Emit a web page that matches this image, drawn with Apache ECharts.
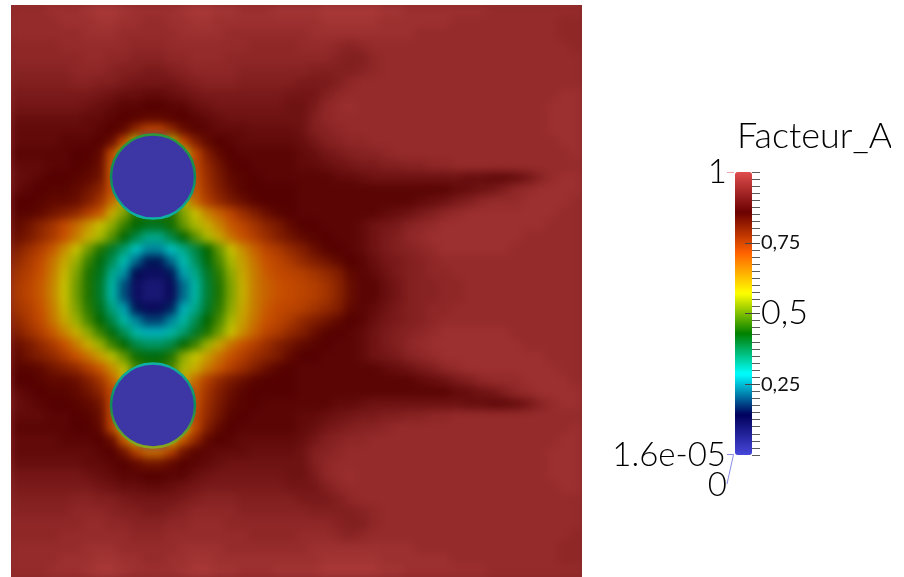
<!DOCTYPE html>
<html><head><meta charset="utf-8">
<style>
html,body{margin:0;padding:0;background:#fff}
#c{width:904px;height:577px;position:relative;z-index:0;isolation:isolate;background:#8a2a2a}
canvas[data-zr-dom-id="zr_-1"]{filter:blur(4.5px)}
</style>
<script src="https://cdn.jsdelivr.net/npm/echarts@6/dist/echarts.min.js"></script>
</head><body><div id="c"></div>
<script>
const r00=[96,96,96,97,97,97,98,99,99,98,97,97,97,97,98,99,99,98,98,97,97,97,98,98,98,98,99,99,99,99,99,98,98,97,97,97,97,97,97,97,96,96,96,96,96,96,96,96];
const r01=[96,96,96,96,97,97,97,98,98,97,97,96,96,97,97,98,98,97,97,97,97,97,97,97,97,97,98,98,98,98,98,97,97,97,97,97,97,96,96,96,96,96,96,96,96,96,95,95];
const r02=[96,96,96,96,96,96,97,97,97,96,96,96,96,96,97,97,97,97,96,96,96,96,96,96,96,97,97,97,97,97,97,97,97,97,96,96,96,96,96,96,96,96,96,96,96,96,95,95];
const r03=[95,95,95,95,96,96,96,96,96,96,95,95,95,96,96,96,96,96,96,96,95,95,95,95,96,96,96,95,94,95,96,96,96,96,96,96,96,96,96,96,96,96,96,96,96,96,96,95];
const r04=[95,95,95,95,95,95,96,96,95,95,94,94,94,95,95,96,96,96,95,95,95,95,95,95,95,95,95,94,93,93,95,96,96,96,96,96,96,96,96,96,96,96,96,96,96,96,96,96];
const r05=[94,94,94,94,94,95,95,95,94,93,93,92,92,93,94,95,95,95,95,94,94,94,94,94,94,93,93,93,93,94,95,96,96,96,96,96,96,96,96,96,96,96,96,96,96,96,96,96];
const r06=[93,93,93,93,93,94,94,93,93,92,91,91,91,91,92,93,94,94,94,93,93,93,93,93,92,92,92,93,95,96,96,96,96,96,96,96,96,96,96,96,96,96,96,96,96,96,96,96];
const r07=[92,92,92,92,92,92,92,91,90,89,89,88,88,89,90,91,92,92,92,92,92,92,92,91,91,91,93,95,96,96,96,96,96,96,96,96,96,96,96,96,96,96,96,96,96,96,97,97];
const r08=[91,91,91,91,91,91,90,89,88,87,87,86,86,87,87,89,90,91,91,91,91,91,91,90,90,92,95,96,97,96,96,96,96,96,96,96,96,96,96,96,96,96,96,96,96,97,97,97];
const r09=[89,89,89,89,89,89,88,88,87,86,85,84,84,85,86,87,88,89,90,90,90,90,90,90,90,93,95,96,96,96,96,96,96,96,96,96,96,96,96,96,96,96,96,96,96,97,97,97];
const r10=[88,88,88,88,88,88,88,87,86,84,78,73,73,78,83,85,87,88,88,88,89,89,89,89,90,93,94,95,96,96,96,96,96,96,96,96,96,96,96,96,96,96,96,96,96,97,97,97];
const r11=[88,88,88,88,87,87,87,86,83,72,55,0,0,55,72,80,84,86,87,88,88,88,88,88,89,91,93,94,95,95,96,96,96,96,96,96,96,96,96,96,96,96,96,96,96,96,97,97];
const r12=[87,87,87,87,87,86,86,84,72,55,0,0,0,0,55,72,80,84,86,87,87,87,87,87,88,89,91,92,93,94,94,95,96,96,96,96,96,96,96,96,96,96,96,96,96,96,96,97];
const r13=[88,88,88,87,87,86,85,83,70,0,0,0,0,0,0,72,78,82,85,86,87,87,87,87,88,88,89,90,91,92,92,93,93,94,94,95,95,96,96,96,96,96,96,96,96,96,96,96];
const r14=[89,88,87,86,86,85,84,82,70,0,0,0,0,0,0,71,77,81,84,85,86,87,87,87,87,87,87,88,88,89,90,90,90,90,90,90,90,90,89,89,88,88,89,91,94,96,97,97];
const r15=[88,87,86,85,85,84,82,79,71,0,0,0,0,0,0,70,76,80,83,85,86,86,86,86,87,87,87,87,87,87,87,87,87,87,87,87,87,88,89,90,91,93,95,96,97,97,97,97];
const r16=[86,86,85,84,84,83,80,76,68,55,0,0,0,0,55,68,74,78,81,83,85,86,86,86,87,87,87,87,87,87,87,87,87,87,88,89,90,92,93,95,96,96,96,97,97,97,97,96];
const r17=[85,85,84,82,80,78,74,70,60,52,45,45,45,45,52,58,65,69,73,77,80,83,85,86,87,87,87,87,87,87,87,88,89,90,92,93,95,96,97,97,97,97,97,97,97,97,96,96];
const r18=[84,82,79,76,72,68,63,58,53,47,43,41,41,44,50,55,60,65,70,73,76,79,81,84,86,86,87,87,87,88,90,91,92,94,95,96,97,97,97,97,97,97,97,97,97,96,96,96];
const r19=[83,81,78,75,71,66,60,55,49,43,38,33,33,38,43,49,55,61,67,71,74,77,80,82,84,85,86,87,87,88,90,92,93,95,96,97,97,97,97,97,97,97,97,96,96,96,96,96];
const r20=[80,77,74,70,64,58,51,45,40,35,29,24,24,29,33,38,43,50,58,64,69,73,75,78,80,83,85,86,87,88,90,92,93,94,95,96,97,97,97,97,97,97,96,96,96,96,96,96];
const r21=[78,75,72,67,61,54,47,42,37,30,22,16,16,22,30,36,42,48,55,62,67,71,73,75,78,80,82,84,86,87,89,91,92,93,94,95,96,96,96,96,96,96,96,96,96,96,96,96];
const r22=[76,74,71,66,59,52,45,41,33,25,15,11,11,16,26,33,40,46,53,61,66,70,72,73,74,76,78,80,84,87,88,90,92,93,94,95,95,96,96,96,96,96,96,96,96,96,96,96];
const r23=[75,73,70,65,58,51,45,40,31,20,11,8,8,12,22,31,39,45,52,60,66,69,71,72,73,74,76,79,83,87,87,89,91,93,94,94,95,95,96,96,96,96,96,96,96,96,96,96];
const r24=[75,73,70,65,58,51,45,40,31,20,11,8,8,12,22,31,39,45,52,60,66,69,71,72,73,74,76,79,83,87,87,89,91,93,94,94,95,95,96,96,96,96,96,96,96,96,96,96];
const r25=[76,74,71,66,59,52,46,41,34,26,16,12,12,17,27,33,40,46,53,61,66,70,72,73,74,76,78,80,84,87,88,90,92,93,94,95,95,96,96,96,96,96,96,96,96,96,96,96];
const r26=[78,75,72,67,61,54,48,43,38,31,24,19,19,24,31,37,43,48,55,62,67,71,73,75,78,80,82,84,86,87,89,91,92,93,94,95,96,96,96,96,96,96,96,96,96,96,96,96];
const r27=[80,77,74,70,65,60,53,47,42,37,31,27,27,31,35,40,45,51,58,64,69,73,75,78,80,83,85,86,87,88,90,92,93,94,95,96,97,97,97,97,97,97,96,96,96,96,96,96];
const r28=[83,81,78,75,71,66,60,54,47,43,38,36,36,38,43,47,54,61,67,71,74,77,80,82,84,85,86,87,87,88,90,92,93,95,96,97,97,97,97,97,97,97,97,96,96,96,96,96];
const r29=[84,82,80,78,75,71,67,62,56,50,44,42,42,45,53,57,62,67,71,74,77,79,81,84,86,86,87,87,87,88,90,91,92,94,95,96,97,97,97,97,97,97,97,97,97,96,96,96];
const r30=[85,85,84,82,80,78,74,70,64,56,48,45,45,48,55,60,66,70,74,77,80,83,85,86,87,87,87,87,87,87,87,88,89,90,92,93,95,96,97,97,97,97,97,97,97,97,96,96];
const r31=[86,86,85,84,84,83,80,76,69,60,0,0,0,0,60,68,74,78,81,83,85,86,86,86,87,87,87,87,87,87,87,87,87,87,88,89,90,92,93,95,96,96,96,97,97,97,97,96];
const r32=[88,87,86,85,85,84,82,79,72,0,0,0,0,0,0,70,76,80,83,85,86,86,86,86,87,87,87,87,87,87,87,87,87,87,87,87,87,88,89,90,91,93,95,96,97,97,97,97];
const r33=[89,88,87,86,86,85,84,82,72,0,0,0,0,0,0,71,77,81,84,85,86,87,87,87,87,87,87,88,88,89,90,90,90,90,90,90,90,90,89,89,88,88,89,91,94,96,97,97];
const r34=[88,88,88,87,87,86,85,83,72,0,0,0,0,0,0,72,78,82,85,86,87,87,87,87,88,88,89,90,91,92,92,93,93,94,94,95,95,96,96,96,96,96,96,96,96,96,96,96];
const r35=[87,87,87,87,87,86,86,84,73,60,0,0,0,0,60,72,80,84,86,87,87,87,87,87,88,89,91,92,93,94,94,95,96,96,96,96,96,96,96,96,96,96,96,96,96,96,96,97];
const r36=[88,88,88,88,87,87,87,86,83,70,60,0,0,60,70,78,84,86,87,88,88,88,88,88,89,91,93,94,95,95,96,96,96,96,96,96,96,96,96,96,96,96,96,96,96,96,97,97];
const r37=[88,88,88,88,88,88,88,87,86,82,74,68,68,74,82,85,87,88,88,88,89,89,89,89,90,93,94,95,96,96,96,96,96,96,96,96,96,96,96,96,96,96,96,96,96,97,97,97];
const r38=[89,89,89,89,89,89,88,88,87,86,84,82,82,84,86,87,88,89,90,90,90,90,90,90,90,93,95,96,96,96,96,96,96,96,96,96,96,96,96,96,96,96,96,96,96,97,97,97];
const r39=[91,91,91,91,91,91,90,89,88,87,87,86,86,87,87,89,90,91,91,91,91,91,91,90,90,92,95,96,97,96,96,96,96,96,96,96,96,96,96,96,96,96,96,96,96,97,97,97];
const r40=[92,92,92,92,92,92,92,91,90,89,89,88,88,89,90,91,92,92,92,92,92,92,92,91,91,91,93,95,96,96,96,96,96,96,96,96,96,96,96,96,96,96,96,96,96,96,97,97];
const r41=[93,93,93,93,93,94,94,93,93,92,91,91,91,91,92,93,94,94,94,93,93,93,93,93,92,92,92,93,95,96,96,96,96,96,96,96,96,96,96,96,96,96,96,96,96,96,96,96];
const r42=[94,94,94,94,94,95,95,95,94,93,93,92,92,93,94,95,95,95,95,94,94,94,94,94,94,93,93,93,93,94,95,96,96,96,96,96,96,96,96,96,96,96,96,96,96,96,96,96];
const r43=[95,95,95,95,95,95,96,96,95,95,94,94,94,95,95,96,96,96,95,95,95,95,95,95,95,95,95,94,93,93,95,96,96,96,96,96,96,96,96,96,96,96,96,96,96,96,96,96];
const r44=[95,95,95,95,96,96,96,96,96,96,95,95,95,96,96,96,96,96,96,96,95,95,95,95,96,96,96,95,94,95,96,96,96,96,96,96,96,96,96,96,96,96,96,96,96,96,96,95];
const r45=[96,96,96,96,96,96,97,97,97,96,96,96,96,96,97,97,97,97,96,96,96,96,96,96,96,97,97,97,97,97,97,97,97,97,96,96,96,96,96,96,96,96,96,96,96,96,95,95];
const r46=[96,96,96,96,97,97,97,98,98,97,97,96,96,97,97,98,98,97,97,97,97,97,97,97,97,97,98,98,98,98,98,97,97,97,97,97,97,96,96,96,96,96,96,96,96,96,95,95];
const r47=[96,96,96,97,97,97,98,99,99,98,97,97,97,97,98,99,99,98,98,97,97,97,98,98,98,98,99,99,99,99,99,98,98,97,97,97,97,97,97,97,96,96,96,96,96,96,96,96];
const rows=[r00,r01,r02,r03,r04,r05,r06,r07,r08,r09,r10,r11,r12,r13,r14,r15,r16,r17,r18,r19,r20,r21,r22,r23,r24,r25,r26,r27,r28,r29,r30,r31,r32,r33,r34,r35,r36,r37,r38,r39,r40,r41,r42,r43,r44,r45,r46,r47];

const holes=[[0.2487,0.7],[0.2487,0.3]];
const surfaceColors=['#3737ab','#000048','#00c7c7','#006400','#c7c700','#c74c00','#530000','#af3c3c'];
const barColors=['#4747db','#00005c','#00ffff','#008000','#ffff00','#ff6100','#6b0000','#e04d4d'];
const tickValues=[0.25,0.5,0.75];
const tickLabels={0.25:'0,25',0.5:'0,5',0.75:'0,75'};
const titleText='Facteur_A';
const maxLabel='1', rangeLabel='1.6e-05', minLabel='0';

const FONT='Lato, "Open Sans", sans-serif';
const cells=[];
rows.forEach((r,j)=>r.forEach((v,i)=>cells.push([i,j,v/100])));
const cats=n=>Array.from({length:n},(_,i)=>String(i));
const hidden={show:false};
const ring=(a,b)=>({type:'linear',x:0,y:0,x2:0,y2:1,colorStops:[{offset:0,color:a},{offset:0.5,color:'#128a55'},{offset:1,color:b}]});
const chart=echarts.init(document.getElementById('c'),null,{renderer:'canvas'});
chart.setOption({
  animation:false,
  backgroundColor:'#8a2a2a',
  grid:[
    {left:11,top:5,width:571,height:572},
    {left:11,top:5,width:571,height:572},
    {left:745,top:172,width:15,height:283},
    {left:745,top:172,width:15,height:283}
  ],
  xAxis:[
    {type:'category',data:cats(48),gridIndex:0,...hidden},
    {type:'value',min:0,max:1,gridIndex:1,...hidden},
    {type:'value',min:0,max:1,gridIndex:2,...hidden},
    {type:'value',min:0,max:1,gridIndex:3,...hidden}
  ],
  yAxis:[
    {type:'category',data:cats(48),inverse:true,gridIndex:0,...hidden},
    {type:'value',min:0,max:1,gridIndex:1,...hidden},
    {type:'value',min:0,max:1,interval:0.025,gridIndex:3,position:'right',z:6,
      axisLine:{show:false,onZero:false},splitLine:{show:false},axisLabel:{show:false},
      axisTick:{show:true,inside:true,length:8,lineStyle:{color:'#5a5a5a',width:1}}},
    {type:'value',min:0,max:1,interval:0.25,gridIndex:2,position:'right',z:6,
      axisLine:{show:false,onZero:false},splitLine:{show:false},
      axisTick:{show:true,inside:true,length:15,customValues:tickValues,lineStyle:{color:'#444',width:1}},
      axisLabel:{show:true,margin:1,customValues:tickValues,color:'#111',fontFamily:FONT,
        formatter:v=>{const t=tickLabels[v];return t===undefined?'':(v===0.5?'{big|'+t+'}':'{small|'+t+'}');},
        rich:{big:{fontSize:34,fontWeight:300,fontFamily:FONT,color:'#000'},small:{fontSize:20,fontWeight:400,fontFamily:FONT,color:'#111'}}}}
  ],
  visualMap:[
    {type:'continuous',min:0,max:1,seriesIndex:0,show:false,inRange:{color:surfaceColors}},
    {type:'continuous',min:0,max:1,seriesIndex:2,show:true,left:735,top:172,itemWidth:17,itemHeight:283,padding:0,
      calculable:false,hoverLink:false,text:null,inRange:{color:barColors}}
  ],
  series:[
    {type:'heatmap',data:cells,xAxisIndex:0,yAxisIndex:0,progressive:0,zlevel:-1,itemStyle:{borderWidth:0},emphasis:{disabled:true}},
    {type:'scatter',xAxisIndex:1,yAxisIndex:1,symbol:'circle',symbolSize:84,z:5,silent:true,
      data:[
        {value:holes[0],itemStyle:{color:'#3c37a5',borderColor:ring('#2f9a3a','#0fb3a8'),borderWidth:2.5,opacity:1}},
        {value:holes[1],itemStyle:{color:'#3c37a5',borderColor:ring('#0fb3a8','#8fa81a'),borderWidth:2.5,opacity:1}}
      ]},
    {type:'scatter',data:[],xAxisIndex:2,yAxisIndex:2}
  ],
  graphic:[
    {type:'rect',shape:{x:0,y:0,width:904,height:5},style:{fill:'#fff'},z:0},
    {type:'rect',shape:{x:0,y:0,width:11,height:577},style:{fill:'#fff'},z:0},
    {type:'rect',shape:{x:582,y:0,width:322,height:577},style:{fill:'#fff'},z:0},
    {type:'text',left:737,top:118,z:10,style:{text:titleText,font:'300 36px '+FONT,fill:'#000'}},
    {type:'rect',shape:{x:891,y:110,width:13,height:50},style:{fill:'#fff'},z:11},
    {type:'text',x:727,y:172,z:10,style:{text:maxLabel,font:'300 33px '+FONT,fill:'#000',align:'right',verticalAlign:'middle'}},
    {type:'text',x:726,y:455,z:10,style:{text:rangeLabel,font:'300 33px '+FONT,fill:'#000',align:'right',verticalAlign:'middle'}},
    {type:'text',x:727,y:485,z:10,style:{text:minLabel,font:'300 33px '+FONT,fill:'#000',align:'right',verticalAlign:'middle'}},
    {type:'polyline',shape:{points:[[727,172.5],[734,172.5]]},style:{stroke:'#f4a6a6',lineWidth:1,fill:null},z:10},
    {type:'polyline',shape:{points:[[727,454.5],[733.5,454.5],[727,484]]},style:{stroke:'#8a8ae8',lineWidth:1,fill:null},z:10}
  ]
});
</script></body></html>
